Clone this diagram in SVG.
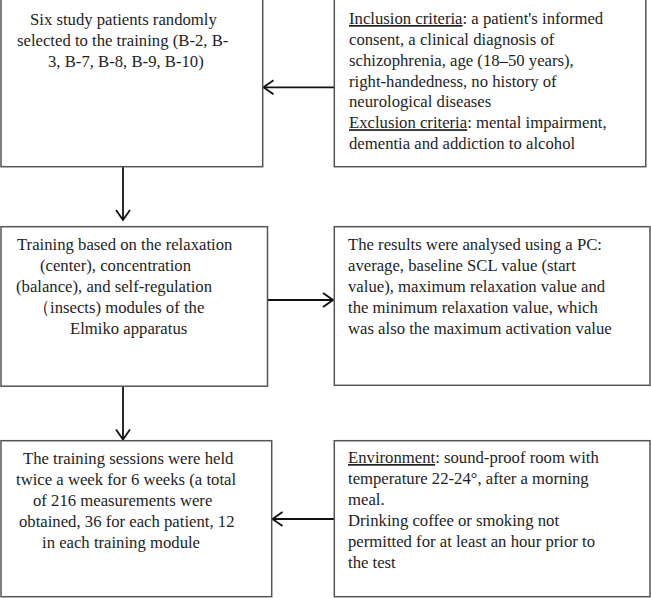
<svg xmlns="http://www.w3.org/2000/svg" width="651" height="598" viewBox="0 0 651 598">
<defs>
<marker id="arr" viewBox="0 0 12 16" refX="11" refY="8" markerWidth="12" markerHeight="16" markerUnits="userSpaceOnUse" orient="auto">
<path d="M1,1 L11,8 L1,15" fill="none" stroke="#111" stroke-width="1.8"/>
</marker>
<style>
.box{fill:#fff;stroke:#555;stroke-width:1.5}
.t{font-family:"Liberation Serif","Times New Roman",serif;font-size:16.7px;fill:#1e1e1e}
.u{text-decoration:underline}
.c{fill:none;stroke:#111;stroke-width:1.8}
</style>
</defs>
<rect width="651" height="598" fill="#fff"/>
<g id="connectors">
<line class="c" x1="334" y1="87.3" x2="263.5" y2="87.3" marker-end="url(#arr)"/>
<line class="c" x1="123" y1="167" x2="123" y2="220" marker-end="url(#arr)"/>
<line class="c" x1="268" y1="300" x2="333" y2="300" marker-end="url(#arr)"/>
<line class="c" x1="123" y1="386" x2="123" y2="439.5" marker-end="url(#arr)"/>
<line class="c" x1="334" y1="519" x2="272.5" y2="519" marker-end="url(#arr)"/>
</g>
<g id="node1">
<rect class="box" x="1" y="-1" width="261.7" height="167.7"/>
<text class="t"><tspan x="30" y="25">Six study patients randomly</tspan><tspan x="17" y="46">selected to the training (B-2, B-</tspan><tspan x="48" y="66.7">3, B-7, B-8, B-9, B-10)</tspan></text>
</g>
<g id="node2">
<rect class="box" x="334.3" y="-1" width="311.5" height="167.7"/>
<text class="t"><tspan x="349" y="24"><tspan class="u">Inclusion criteria</tspan>: a patient's informed</tspan><tspan x="349" y="45">consent, a clinical diagnosis of</tspan><tspan x="349" y="65.8">schizophrenia, age (18–50 years),</tspan><tspan x="349" y="86.6">right-handedness, no history of</tspan><tspan x="349" y="107.4">neurological diseases</tspan><tspan x="349" y="128.2"><tspan class="u">Exclusion criteria</tspan>: mental impairment,</tspan><tspan x="349" y="149">dementia and addiction to alcohol</tspan></text>
</g>
<g id="node3">
<rect class="box" x="1" y="226.7" width="266.5" height="159.5"/>
<text class="t"><tspan x="17" y="250">Training based on the relaxation</tspan><tspan x="40" y="271">(center), concentration</tspan><tspan x="16" y="292">(balance), and self-regulation</tspan><tspan x="33" y="313">（insects) modules of the</tspan><tspan x="70" y="333.5">Elmiko apparatus</tspan></text>
</g>
<g id="node4">
<rect class="box" x="334.3" y="226.7" width="315.7" height="158.6"/>
<text class="t"><tspan x="348" y="250">The results were analysed using a PC:</tspan><tspan x="348" y="271">average, baseline SCL value (start</tspan><tspan x="348" y="292">value), maximum relaxation value and</tspan><tspan x="348" y="313">the minimum relaxation value, which</tspan><tspan x="348" y="333.5">was also the maximum activation value</tspan></text>
</g>
<g id="node5">
<rect class="box" x="1" y="440.7" width="270.7" height="156"/>
<text class="t"><tspan x="23" y="464">The training sessions were held</tspan><tspan x="16" y="485">twice a week for 6 weeks (a total</tspan><tspan x="33" y="506">of 216 measurements were</tspan><tspan x="19" y="527">obtained, 36 for each patient, 12</tspan><tspan x="42" y="548">in each training module</tspan></text>
</g>
<g id="node6">
<rect class="box" x="334.3" y="440.7" width="315.7" height="156"/>
<text class="t"><tspan x="348" y="463"><tspan class="u">Environment</tspan>: sound-proof room with</tspan><tspan x="348" y="484">temperature 22-24°, after a morning</tspan><tspan x="348" y="505">meal.</tspan><tspan x="348" y="526">Drinking coffee or smoking not</tspan><tspan x="348" y="547">permitted for at least an hour prior to</tspan><tspan x="348" y="568">the test</tspan></text>
</g>
</svg>
